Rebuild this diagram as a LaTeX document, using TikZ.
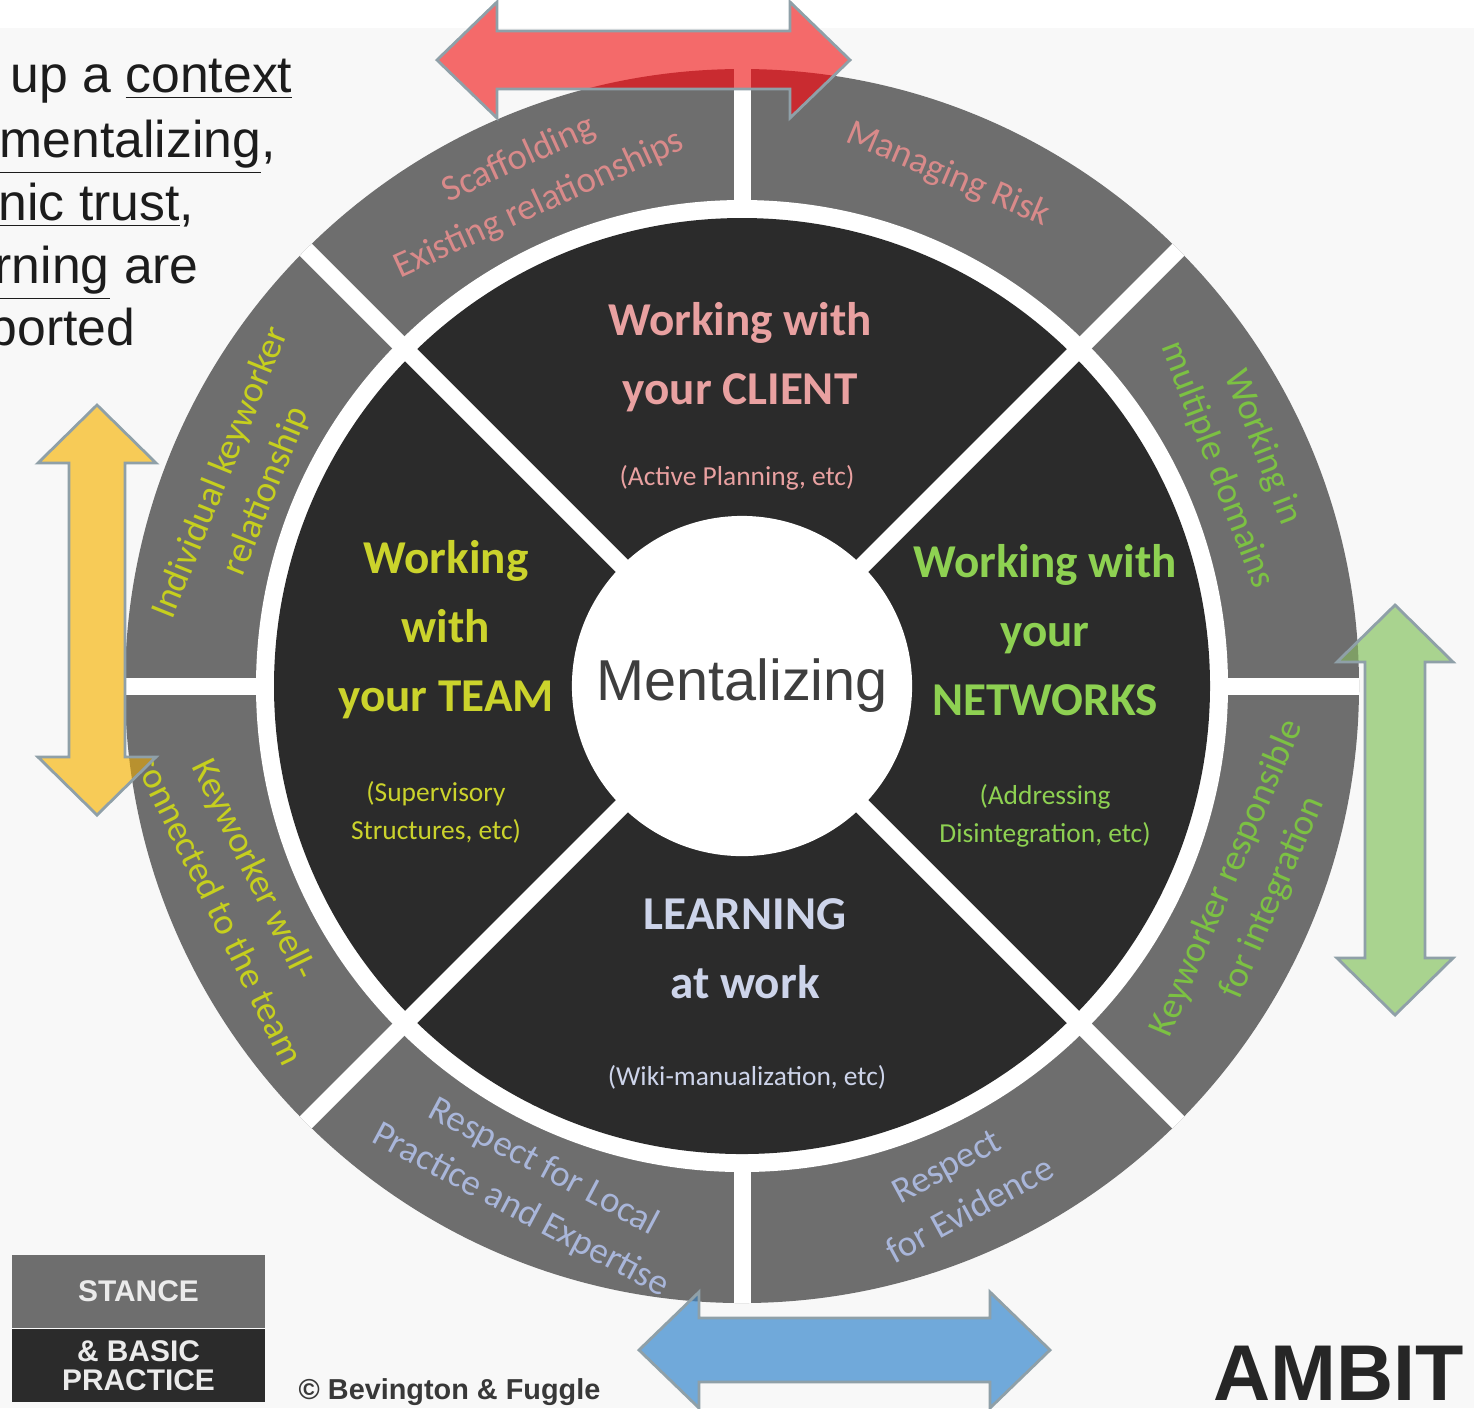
\documentclass[tikz,border=0pt]{standalone}
\usepackage{fontspec}
\setmainfont{Carlito}
\setsansfont{Liberation Sans}
\usetikzlibrary{calc}

\definecolor{paper}{HTML}{F8F8F8}
\definecolor{ringgray}{HTML}{6E6E6E}
\definecolor{diskdark}{HTML}{2B2B2B}
\definecolor{mindtext}{HTML}{3E3E3E}
\definecolor{pinktxt}{HTML}{D98A8A}
\definecolor{pinkhead}{HTML}{E9A1A1}
\definecolor{yellowtxt}{HTML}{C6CF1E}
\definecolor{yellowhead}{HTML}{CBD32C}
\definecolor{greentxt}{HTML}{7CC143}
\definecolor{greenhead}{HTML}{8ED152}
\definecolor{bluetxt}{HTML}{A9B6DA}
\definecolor{learnhead}{HTML}{CDD4EA}
\definecolor{arrowred}{HTML}{F46A6A}
\definecolor{redshade}{HTML}{C92B30}
\definecolor{arrowyellow}{HTML}{F7CB57}
\definecolor{yellowshade}{HTML}{B8912F}
\definecolor{arrowgreen}{HTML}{A9D38F}
\definecolor{greenshade}{HTML}{7E9D66}
\definecolor{arrowblue}{HTML}{70A9DA}
\definecolor{blueshade}{HTML}{4E7BA3}
\definecolor{arrowedge}{HTML}{8FA0A8}
\definecolor{sidetext}{HTML}{1C1C1C}

\tikzset{gap/.style={white, line width=0.17cm}}
\tikzset{seg/.style={font=\fontsize{10.5}{14}\selectfont, align=center, inner sep=0pt}}
\tikzset{head/.style={font=\bfseries\fontsize{13.4}{19.6}\selectfont, align=center, inner sep=0pt}}
\tikzset{note/.style={font=\fontsize{7.8}{10.8}\selectfont, align=center, inner sep=0pt}}
\tikzset{side/.style={font=\sffamily\fontsize{14.7}{18}\selectfont, text=sidetext, anchor=base west, inner sep=0pt}}
\tikzset{fatarrow/.style={draw=arrowedge, line width=0.8pt, line join=miter}}
\tikzset{stancebox/.style={minimum width=2.53cm, inner sep=0pt, align=center, text=white!92!black, font=\sffamily\bfseries\fontsize{8.5}{8.2}\selectfont}}

\newcommand\redarrow{(437,60) -- (497,2) -- (497,31) -- (790,31) -- (790,2) -- (850,60) -- (790,118) -- (790,89) -- (497,89) -- (497,118) -- cycle}
\newcommand\yellowarrow{(97,405) -- (156,463) -- (125,463) -- (125,757) -- (156,757) -- (97,815) -- (38,757) -- (69,757) -- (69,463) -- (38,463) -- cycle}
\newcommand\greenarrow{(1395,605) -- (1453,662) -- (1425,662) -- (1425,958) -- (1453,958) -- (1395,1015) -- (1337,958) -- (1365,958) -- (1365,662) -- (1337,662) -- cycle}
\newcommand\bluearrow{(639,1350) -- (699,1292) -- (699,1318) -- (990,1318) -- (990,1292) -- (1050,1350) -- (990,1408) -- (990,1382) -- (699,1382) -- (699,1408) -- cycle}

\begin{document}
\begin{tikzpicture}[x=0.01cm, y=-0.01cm]
  \useasboundingbox (0,0) rectangle (1474,1408);
  \fill[paper] (0,0) rectangle (1474,1408);
  \fill[white] (0,0) rectangle (1474,28);
  \clip (0,0) rectangle (1474,1408);

  % the wheel
  \coordinate (c) at (742,686);
  \fill[ringgray] (c) circle (617);
  \begin{scope}
    \clip (c) circle (617);
    \foreach \a in {0,45,...,315}
      \draw[gap] (c) -- ++(\a:660);
  \end{scope}
  \fill[white] (c) circle (486);
  \fill[diskdark] (c) circle (468);
  \foreach \a in {45,135,225,315}
    \draw[gap] (c) -- ++(\a:480);
  \node[circle, fill=white, minimum size=3.4cm, inner sep=0pt,
        font=\sffamily\fontsize{16.4}{18}\selectfont, text=mindtext] (mind) at (c) {Mentalizing};

  % inner sectors
  \node[head, text=pinkhead] (client) at (740,357) {Working with\\your CLIENT};
  \node[note, text=pinkhead] (clientnote) at (737,478) {(Active Planning, etc)};
  \node[head, text=yellowhead] (team) at (446,630) {Working\\with\\your TEAM};
  \node[note, text=yellowhead] (teamnote) at (436,812) {(Supervisory\\Structures, etc)};
  \node[head, text=greenhead] (networks) at (1045,630) {Working with\\your\\NETWORKS};
  \node[note, text=greenhead] (networksnote) at (1045,816) {(Addressing\\Disintegration, etc)};
  \node[head, text=learnhead] (learning) at (745,949) {LEARNING\\at work};
  \node[note, text=learnhead] (learningnote) at (747,1077) {(Wiki-manualization, etc)};

  % outer ring
  \node[seg, text=pinktxt, rotate=24.5] (scaffold) at (529,182) {Scaffolding\\Existing relationships};
  \node[seg, text=pinktxt, rotate=-23] (risk) at (948,175) {Managing Risk};
  \node[seg, text=greentxt, rotate=-69] (domains) at (1240,456) {Working in\\multiple domains};
  \node[seg, text=greentxt, rotate=67] (integration) at (1250,888) {Keyworker responsible\\for integration};
  \node[seg, text=bluetxt, rotate=28.5] (evidence) at (958,1188) {Respect\\for Evidence};
  \node[seg, text=bluetxt, rotate=-28] (local) at (532,1189) {Respect for Local\\Practice and Expertise};
  \node[seg, text=yellowtxt, rotate=-64] (wellcon) at (242,898) {Keyworker well-\hspace*{1.1em}\\connected to the team};
  \node[seg, text=yellowtxt, rotate=68] (individual) at (244,482) {Individual keyworker\\relationship};

  % arrows
  \fill[arrowred] \redarrow;
  \fill[arrowyellow] \yellowarrow;
  \fill[arrowgreen] \greenarrow;
  \fill[arrowblue] \bluearrow;
  \begin{scope}
    \clip (c) circle (617);
    \fill[redshade] \redarrow;
    \fill[yellowshade] \yellowarrow;
    \fill[greenshade] \greenarrow;
    \fill[blueshade] \bluearrow;
    \clip \redarrow;
    \fill[arrowred] (733.5,0) rectangle (750.5,200);
  \end{scope}
  \draw[fatarrow] \redarrow;
  \draw[fatarrow] \yellowarrow;
  \draw[fatarrow] \greenarrow;
  \draw[fatarrow] \bluearrow;

  % side text
  \node[side] (line1) at (10,92) {up a \underline{context}};
  \node[side] (line2) at (-1,157) {\underline{mentalizing},};
  \node[side] (line3) at (-2,220) {\underline{nic trust},};
  \node[side] (line4) at (-6,283) {\underline{rning} are};
  \node[side] (line5) at (-12,345) {ported};

  % legend
  \node[stancebox, fill=ringgray, minimum height=0.73cm] (stance) at (138.5,1291.5) {STANCE};
  \node[stancebox, fill=diskdark, minimum height=0.72cm, anchor=north] (basic) at (stance.south) {\& BASIC\\PRACTICE};
  \node[font=\sffamily\bfseries\fontsize{8.2}{10}\selectfont, text=black!78, anchor=base west, inner sep=0pt] (credit) at (298,1399) {© Bevington \& Fuggle};
  \node[font=\sffamily\bfseries\fontsize{22.5}{24}\selectfont, text=black!85, anchor=base west, inner sep=0pt] (ambit) at (1213,1400) {AMBIT};
\end{tikzpicture}
\end{document}
